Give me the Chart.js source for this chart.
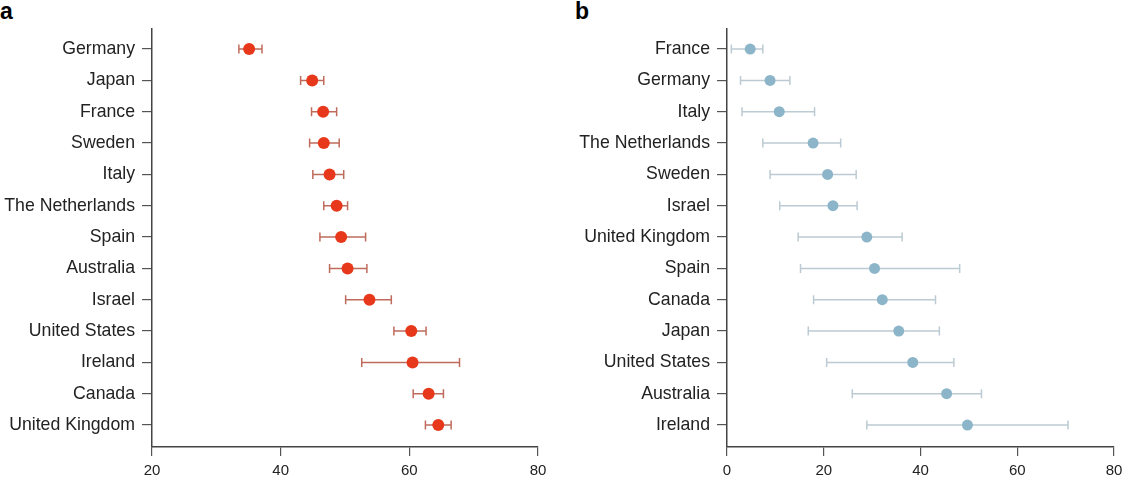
<!DOCTYPE html>
<html>
<head>
<meta charset="utf-8">
<script src="https://cdn.jsdelivr.net/npm/chart.js@4.4.1/dist/chart.umd.min.js"></script>
<style>
  body { margin: 0; background: #fff; }
  #wrap { position: relative; width: 1123px; height: 483px; overflow: hidden; }
  .panel { position: absolute; top: 0; height: 483px; }
  .letter { position: absolute; top: 0; font: bold 23px/23px "Liberation Sans", Arial, sans-serif; color: #000; }
</style>
</head>
<body>
<div id="wrap">
  <div class="letter" style="left:0px">a</div>
  <div class="letter" style="left:575px">b</div>
  <div class="panel" style="left:0;width:560px"><canvas id="chartA"></canvas></div>
  <div class="panel" style="left:560px;width:563px"><canvas id="chartB"></canvas></div>
</div>
<script>
// panel a
const countriesA = ['Germany', 'Japan', 'France', 'Sweden', 'Italy', 'The Netherlands', 'Spain',
  'Australia', 'Israel', 'United States', 'Ireland', 'Canada', 'United Kingdom'];
const valuesA = [35.1, 44.9, 46.6, 46.7, 47.6, 48.7, 49.4, 50.4, 53.8, 60.3, 60.5, 63.0, 64.5];
const lowA    = [33.5, 43.1, 44.8, 44.5, 45.0, 46.7, 46.1, 47.6, 50.1, 57.6, 52.6, 60.6, 62.5];
const highA   = [37.1, 46.7, 48.7, 49.1, 49.8, 50.4, 53.2, 53.4, 57.2, 62.6, 67.8, 65.3, 66.5];
const ticksA  = [20, 40, 60, 80];

// panel b
const countriesB = ['France', 'Germany', 'Italy', 'The Netherlands', 'Sweden', 'Israel', 'United Kingdom',
  'Spain', 'Canada', 'Japan', 'United States', 'Australia', 'Ireland'];
const valuesB = [4.8, 8.9, 10.8, 17.8, 20.8, 21.9, 28.9, 30.5, 32.1, 35.5, 38.4, 45.4, 49.7];
const lowB    = [0.9, 2.8, 3.1, 7.4, 8.9, 10.9, 14.7, 15.2, 17.9, 16.8, 20.6, 25.9, 28.9];
const highB   = [7.4, 13.0, 18.1, 23.5, 26.7, 26.9, 36.2, 48.1, 43.1, 43.9, 46.9, 52.6, 70.5];
const ticksB  = [0, 20, 40, 60, 80];

const FONT = '"Liberation Sans", Arial, sans-serif';

// draws horizontal error bars with caps from the scales
const errorBars = {
  id: 'errorBars',
  beforeDatasetsDraw(chart, args, opts) {
    const { ctx } = chart;
    const xs = chart.scales.x, ys = chart.scales.y;
    ctx.save();
    ctx.strokeStyle = opts.color;
    ctx.lineWidth = 1.5;
    opts.low.forEach((lo, i) => {
      const y = ys.getPixelForValue(i);
      const x1 = xs.getPixelForValue(lo);
      const x2 = xs.getPixelForValue(opts.high[i]);
      ctx.beginPath();
      ctx.moveTo(x1, y); ctx.lineTo(x2, y);
      ctx.moveTo(x1, y - 4.5); ctx.lineTo(x1, y + 4.5);
      ctx.moveTo(x2, y - 4.5); ctx.lineTo(x2, y + 4.5);
      ctx.stroke();
    });
    ctx.restore();
  }
};

function makeChart(id, labels, values, low, high, xTicks, dotColor, barColor, yWidth, padRight, radius) {
  return new Chart(document.getElementById(id), {
    type: 'scatter',
    data: {
      datasets: [{
        data: values.map((v, i) => ({ x: v, y: i })),
        backgroundColor: dotColor,
        borderColor: dotColor,
        pointRadius: radius,
        pointBorderWidth: 0
      }]
    },
    options: {
      responsive: true,
      maintainAspectRatio: false,
      animation: false,
      layout: { padding: { top: 29, right: padRight, left: 0, bottom: 0 } },
      plugins: {
        legend: { display: false },
        tooltip: { enabled: false },
        errorBars: { low: low, high: high, color: barColor }
      },
      scales: {
        x: {
          type: 'linear',
          min: xTicks[0],
          max: xTicks[xTicks.length - 1],
          afterFit(s) { s.height = 36; s.paddingLeft = 0; s.paddingRight = 0; },
          afterBuildTicks(s) { s.ticks = xTicks.map(v => ({ value: v })); },
          ticks: { font: { family: FONT, size: 15 }, color: '#222', padding: 6, maxRotation: 0 },
          grid: { drawOnChartArea: false, drawTicks: true, tickLength: 9, color: '#555', lineWidth: 1.2 },
          border: { color: '#444', width: 1.5 }
        },
        y: {
          type: 'linear',
          reverse: true,
          min: -0.64,
          max: 12.7,
          afterFit(s) { s.width = yWidth; },
          afterBuildTicks(s) { s.ticks = labels.map((l, i) => ({ value: i })); },
          ticks: {
            font: { family: FONT, size: 17.7 }, color: '#222', padding: 7,
            callback: v => labels[v]
          },
          grid: { drawOnChartArea: false, drawTicks: true, tickLength: 10, color: '#555', lineWidth: 1.2 },
          border: { color: '#444', width: 1.5 }
        }
      }
    },
    plugins: [errorBars]
  });
}

makeChart('chartA', countriesA, valuesA, lowA, highA, ticksA, '#e8381b', '#bf6b5c', 152, 22, 6);
makeChart('chartB', countriesB, valuesB, lowB, highB, ticksB, '#8db5c9', '#bccbd3', 167, 9, 5.5);
</script>
</body>
</html>
